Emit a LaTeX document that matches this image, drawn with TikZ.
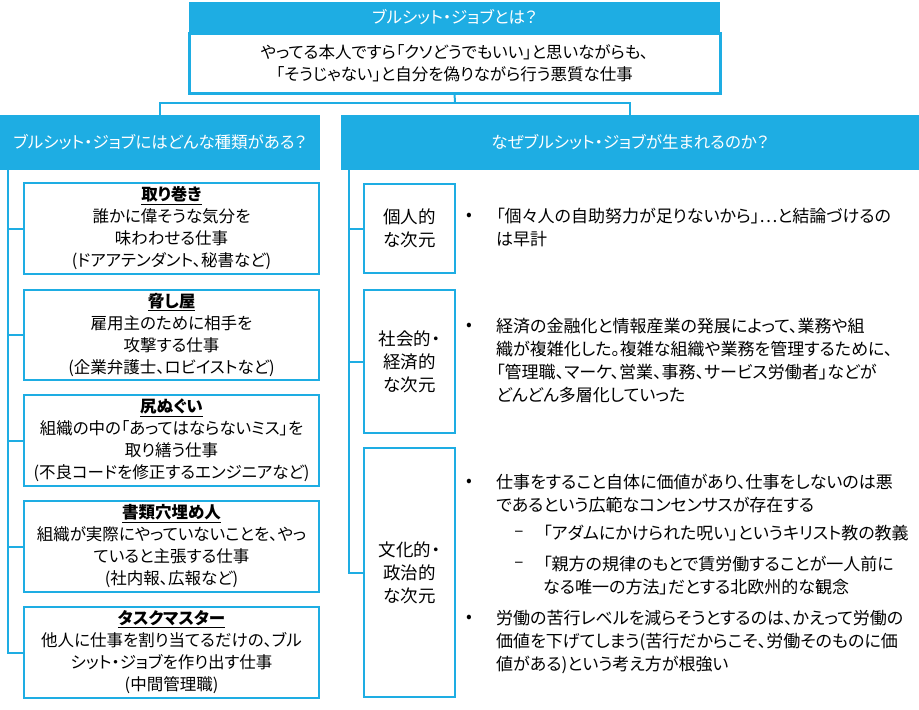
\documentclass[tikz,border=0pt]{standalone}
\usepackage{fontspec}
\setmainfont{Noto Sans CJK JP}[RawFeature=+palt]
\definecolor{bl}{RGB}{30,173,227}
\newcommand{\myfs}{\fontsize{16.5}{22}\selectfont}
\newcommand{\myfsr}{\fontsize{17}{23}\selectfont}
\newcommand{\myfsb}{\fontsize{17.5}{23}\selectfont}
\begin{document}
\begin{tikzpicture}[x=1pt,y=-1pt,
  conn/.style={draw=bl,line width=2pt},
  hdr/.style={fill=bl,inner sep=0pt,outer sep=0pt,text=white,font=\myfs,anchor=north west},
  boxb/.style={draw=bl,line width=2.5pt,fill=white,inner sep=0pt,outer sep=0pt,align=center,font=\myfs,anchor=north west},
  dimbox/.style={boxb,font=\myfsb,minimum width=91},
  txt/.style={anchor=north west,inner sep=0pt,align=left,font=\myfsr},
  bul/.style={inner sep=0pt,font=\myfsr}]
\useasboundingbox (0,0) rectangle (919,710);
% top box
\node[hdr,minimum width=531,minimum height=31] (toph) at (189,2) {ブルシット・ジョブとは？};
\node[boxb,line width=3pt,minimum width=531,minimum height=60] (topb) at (189,33)
  {やってる本人ですら「クソどうでもいい」と思いながらも、\\「そうじゃない」と自分を偽りながら行う悪質な仕事};
% headers
\node[hdr,minimum width=320,minimum height=55] (lh) at (0,115) {ブルシット・ジョブにはどんな種類がある？};
\node[hdr,minimum width=578,minimum height=55] (rh) at (341,115) {なぜブルシット・ジョブが生まれるのか？};
\coordinate (jn) at (455,103);
\draw[conn] (topb.south) -- (jn);
\draw[conn] (lh.north) |- (jn) -| (rh.north);
% left boxes
\node[boxb,minimum width=295,minimum height=91] (b1) at (24,183)
  {\underline{\textbf{取り巻き}}\\誰かに偉そうな気分を\\味わわせる仕事\\(ドアアテンダント、秘書など)};
\node[boxb,minimum width=295,minimum height=90] (b2) at (24,290)
  {\underline{\textbf{脅し屋}}\\雇用主のために相手を\\攻撃する仕事\\(企業弁護士、ロビイストなど)};
\node[boxb,minimum width=295,minimum height=91] (b3) at (24,395)
  {\underline{\textbf{尻ぬぐい}}\\組織の中の「あってはならないミス」を\\取り繕う仕事\\(不良コードを修正するエンジニアなど)};
\node[boxb,minimum width=295,minimum height=91] (b4) at (24,501)
  {\underline{\textbf{書類穴埋め人}}\\組織が実際にやっていないことを、やっ\\ていると主張する仕事\\(社内報、広報など)};
\node[boxb,minimum width=295,minimum height=91] (b5) at (24,607)
  {\underline{\textbf{タスクマスター}}\\他人に仕事を割り当てるだけの、ブル\\シット・ジョブを作り出す仕事\\(中間管理職)};
\coordinate (lv) at (8,170);
\draw[conn] (lv) |- (b5.west);
\foreach \b in {b1,b2,b3,b4} \draw[conn] (lv |- \b.west) -- (\b.west);
% right boxes
\node[dimbox,minimum height=89] (r1) at (364,184) {個人的\\な次元};
\node[dimbox,minimum height=143] (r2) at (364,290) {社会的・\\経済的\\な次元};
\node[dimbox,minimum height=249] (r3) at (364,448) {文化的・\\政治的\\な次元};
\coordinate (rv) at (349,170);
\draw[conn] (rv) |- (r3.west);
\foreach \b in {r1,r2} \draw[conn] (rv |- \b.west) -- (\b.west);
% right texts
\node[bul] (u1) at (469,217) {•};
\node[txt] (t1) at (496,208) {「個々人の自助努力が足りないから」…と結論づけるの\\は早計};
\node[bul] (u2) at (469,327) {•};
\node[txt] (t2) at (496,318) {経済の金融化と情報産業の発展によって、業務や組\\織が複雑化した。複雑な組織や業務を管理するために、\\「管理職、マーケ、営業、事務、サービス労働者」などが\\どんどん多層化していった};
\node[bul] (u3) at (469,483) {•};
\node[txt] (t3) at (496,474) {仕事をすること自体に価値があり、仕事をしないのは悪\\であるという広範なコンセンサスが存在する};
\node[bul] (d1) at (519,534) {–};
\node[txt] (s1) at (543,525) {「アダムにかけられた呪い」というキリスト教の教義};
\node[bul] (d2) at (519,565) {–};
\node[txt] (s2) at (543,556) {「親方の規律のもとで賃労働することが一人前に\\なる唯一の方法」だとする北欧州的な観念};
\node[bul] (u4) at (469,619) {•};
\node[txt] (t4) at (496,610) {労働の苦行レベルを減らそうとするのは、かえって労働の\\価値を下げてしまう(苦行だからこそ、労働そのものに価\\値がある)という考え方が根強い};
\end{tikzpicture}
\end{document}
